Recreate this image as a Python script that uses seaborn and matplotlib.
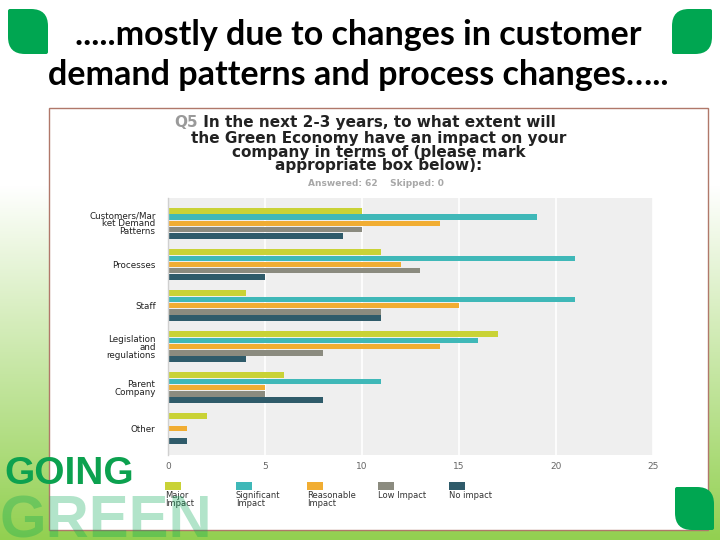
import numpy as np
import pandas as pd
import matplotlib
matplotlib.use("Agg")
import matplotlib.pyplot as plt
from matplotlib.patches import Rectangle, PathPatch
from matplotlib.path import Path
from matplotlib.text import Annotation
import seaborn as sns

CATEGORIES = [
    "Customers/Mar\nket Demand\nPatterns",
    "Processes",
    "Staff",
    "Legislation\nand\nregulations",
    "Parent\nCompany",
    "Other",
]
IMPACTS = ["Major\nImpact", "Significant\nImpact", "Reasonable\nImpact", "Low Impact", "No impact"]
MAJOR = [10, 11, 4, 17, 6, 2]
SIGNIFICANT = [19, 21, 21, 16, 11, 0]
REASONABLE = [14, 12, 15, 14, 5, 1]
LOW = [10, 13, 11, 8, 5, 0]
NO_IMPACT = [9, 5, 11, 4, 8, 1]
COLORS = ["#c9d236", "#3fb8b8", "#f1ad32", "#8b8b7f", "#2f5b6a"]
X_TICKS = [0, 5, 10, 15, 20, 25]

SLIDE_TITLE = [".....mostly due to changes in customer", "demand patterns and process changes….."]
CHART_TITLE = [
    "the Green Economy have an impact on your",
    "company in terms of (please mark",
    "appropriate box below):",
]

W, H = 720, 540
GREEN = "#00a651"


def fx(x):
    return x / W


def fy(y):
    return 1 - y / H


def leaf(fig, x0, y0, w, h, r, corners):
    # corners: which corners get the big rounding (tl, tr, br, bl)
    rt = {c: (r if c in corners else 2) for c in ("tl", "tr", "br", "bl")}
    pts = [
        (x0 + rt["tl"], y0),
        (x0 + w - rt["tr"], y0), (x0 + w, y0), (x0 + w, y0 + rt["tr"]),
        (x0 + w, y0 + h - rt["br"]), (x0 + w, y0 + h), (x0 + w - rt["br"], y0 + h),
        (x0 + rt["bl"], y0 + h), (x0, y0 + h), (x0, y0 + h - rt["bl"]),
        (x0, y0 + rt["tl"]), (x0, y0), (x0 + rt["tl"], y0),
    ]
    codes = [Path.MOVETO] + [Path.LINETO, Path.CURVE3, Path.CURVE3] * 4
    verts = [(fx(px), fy(py)) for px, py in pts]
    patch = PathPatch(Path(verts, codes), facecolor=GREEN, edgecolor="none",
                      transform=fig.transFigure, zorder=6)
    fig.add_artist(patch)


df = pd.DataFrame({
    "category": CATEGORIES * 5,
    "impact": np.repeat(IMPACTS, len(CATEGORIES)),
    "count": MAJOR + SIGNIFICANT + REASONABLE + LOW + NO_IMPACT,
})

fig = plt.figure(figsize=(7.2, 5.4), dpi=100)

# slide background: white fading into green towards the bottom
bg = fig.add_axes([0, 0, 1, 1], zorder=-10)
t = np.clip((np.arange(H) - 185) / 355, 0, 1)[:, None, None]
white = np.array([1.0, 1.0, 1.0])
green = np.array([0x92, 0xd0, 0x50]) / 255
bg.imshow(white * (1 - t) + green * t, aspect="auto", extent=[0, 1, 0, 1])
bg.set_axis_off()

# pasted chart frame
fig.add_artist(Rectangle((fx(49), fy(530)), (708 - 49) / W, (530 - 108) / H,
                         facecolor="white", edgecolor="#b0786a", lw=1.0,
                         transform=fig.transFigure, zorder=-5))

ax = fig.add_axes([fx(168), fy(455), (653 - 168) / W, (455 - 198) / H])
sns.barplot(data=df, x="count", y="category", hue="impact", order=CATEGORIES,
            hue_order=IMPACTS, palette=COLORS, saturation=1, width=0.76, gap=0.12,
            orient="h", errorbar=None, legend=False, linewidth=0, ax=ax)
ax.set_facecolor("#efefef")
ax.set_xlim(0, 25)
ax.set_ylim(5.64, -0.62)
ax.set_xticks(X_TICKS)
ax.set_xticklabels([str(v) for v in X_TICKS])
ax.grid(axis="x", color="white", lw=1.2)
ax.grid(axis="y", visible=False)
ax.set_axisbelow(True)
for side in ("top", "right", "bottom"):
    ax.spines[side].set_visible(False)
ax.spines["left"].set_color("#d0d0d0")
ax.spines["left"].set_linewidth(1.0)
ax.tick_params(axis="x", length=0, pad=5, labelsize=6.5, labelcolor="#666666")
ax.tick_params(axis="y", length=0, pad=9, labelsize=6.3, labelcolor="#222222")
for lab in ax.get_yticklabels():
    lab.set_linespacing(0.85)
ax.set_xlabel("")
ax.set_ylabel("")

# chart title
q5 = fig.text(fx(174), fy(130), "Q5", color="#9a9a9a", fontsize=11,
              fontweight="bold", ha="left", va="bottom")
fig.add_artist(Annotation(" In the next 2-3 years, to what extent will", xy=(1, 0),
                          xycoords=q5, ha="left", va="bottom", color="#222222",
                          fontsize=11, fontweight="bold"))
for i, line in enumerate(CHART_TITLE):
    fig.text(fx(379), fy(139 + 13.5 * i), line, color="#222222", fontsize=11,
             fontweight="bold", ha="center", va="center")
fig.text(fx(376), fy(183), "Answered: 62    Skipped: 0", color="#a8a8a8",
         fontsize=6.5, fontweight="bold", ha="center", va="center")

# legend
for i, (label, color) in enumerate(zip(IMPACTS, COLORS)):
    x0 = 165 + 71 * i
    fig.add_artist(Rectangle((fx(x0), fy(490)), 16 / W, 8 / H, facecolor=color,
                             edgecolor="none", transform=fig.transFigure))
    fig.text(fx(x0), fy(491), label, fontsize=6, color="#333333", ha="left",
             va="top", linespacing=0.9)

# slide title
for i, line in enumerate(SLIDE_TITLE):
    fig.text(fx(358), fy(35 + 40 * i), line, fontfamily="Lato", fontweight="bold",
             fontsize=24.5, color="black", ha="center", va="center")

# GOING GREEN logo
fig.text(fx(4), fy(484), "GOING", fontfamily="Liberation Sans", fontweight="bold",
         fontsize=28, color="#0ca14f", ha="left", va="baseline", zorder=5)
fig.text(fx(0), fy(537), "GREEN", fontfamily="Liberation Sans",
         fontweight="bold", fontsize=43, color=GREEN, alpha=0.3, ha="left",
         va="baseline", zorder=5)

leaf(fig, 8, 9, 40, 45, 17, ("tr", "bl"))
leaf(fig, 672, 9, 40, 45, 17, ("tl", "br"))
leaf(fig, 675, 487, 39, 43, 17, ("tr", "bl"))

fig.savefig("out.png", dpi=100)
